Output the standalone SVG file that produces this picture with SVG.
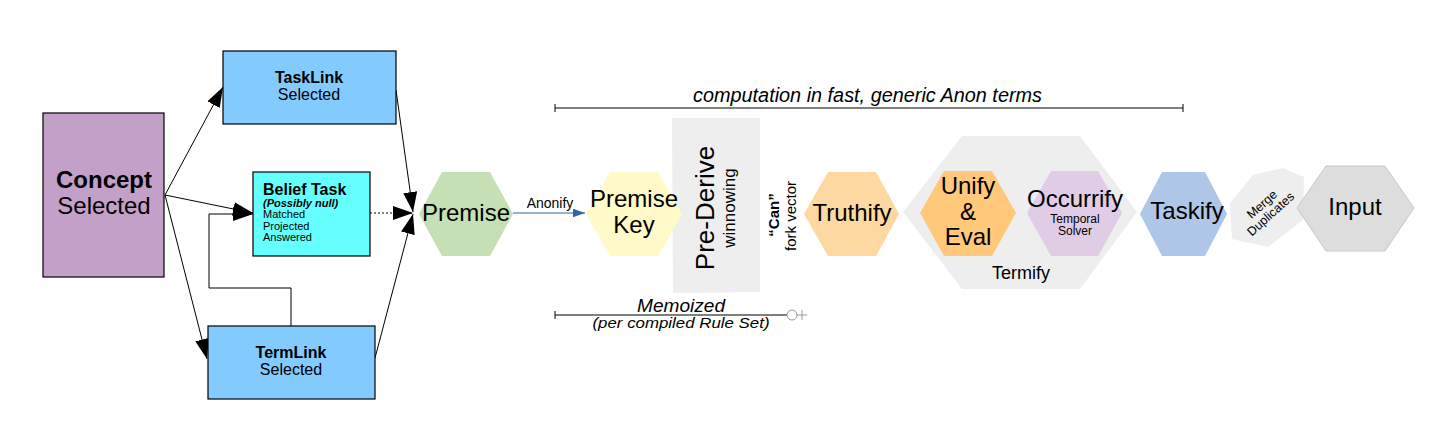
<svg xmlns="http://www.w3.org/2000/svg" width="1440" height="443" viewBox="0 0 1440 443">
<style>
text{font-family:"Liberation Sans",Arial,sans-serif;fill:#000}
.box{stroke:#000;stroke-width:1.2}
.ln{fill:none;stroke:#000;stroke-width:1}
.it{font-style:italic}
</style>
<defs>
<marker id="ah" viewBox="0 0 20 14" refX="20" refY="7" markerWidth="20" markerHeight="14" markerUnits="userSpaceOnUse" orient="auto">
<path d="M0,0 L20,7 L0,14 Z" fill="#000"/>
</marker>
<marker id="ahb" viewBox="0 0 14 10" refX="14" refY="5" markerWidth="12" markerHeight="9" markerUnits="userSpaceOnUse" orient="auto">
<path d="M0,0 L14,5 L0,10 Z" fill="#3465a4"/>
</marker>
</defs>
<rect width="1440" height="443" fill="#fff"/>

<g id="connectors">
<line class="ln" x1="165" y1="195" x2="223" y2="87" marker-end="url(#ah)"/>
<line class="ln" x1="165" y1="195" x2="253" y2="213" marker-end="url(#ah)"/>
<line class="ln" x1="165" y1="195" x2="207" y2="359" marker-end="url(#ah)"/>
<polyline class="ln" points="291,326 291,288 209,288 209,214 253,214" marker-end="url(#ah)"/>
<line class="ln" x1="396" y1="90" x2="413" y2="212" marker-end="url(#ah)"/>
<line class="ln" x1="370" y1="213" x2="413" y2="213" stroke-dasharray="2,2" marker-end="url(#ah)"/>
<line class="ln" x1="375" y1="358" x2="413" y2="214" marker-end="url(#ah)"/>
<line x1="513" y1="213" x2="585" y2="213" stroke="#3465a4" stroke-width="1.2" marker-end="url(#ahb)"/>
<text x="550" y="208" font-size="14" text-anchor="middle" fill="#222">Anonify</text>
</g>

<g id="concept">
<rect class="box" x="43" y="113" width="121" height="164" fill="#c3a0c8"/>
<text x="104" y="188" font-size="24" font-weight="bold" text-anchor="middle">Concept</text>
<text x="104" y="214" font-size="24" text-anchor="middle">Selected</text>
</g>

<g id="tasklink">
<rect class="box" x="223" y="51" width="173" height="73" fill="#83caff"/>
<text x="309" y="83" font-size="16" font-weight="bold" text-anchor="middle">TaskLink</text>
<text x="309" y="100" font-size="16" text-anchor="middle">Selected</text>
</g>

<g id="belieftask">
<rect class="box" x="253" y="172" width="117" height="84" fill="#66ffff"/>
<text x="263" y="195" font-size="16" font-weight="bold">Belief Task</text>
<text x="263" y="207" font-size="11" font-weight="bold" class="it">(Possibly null)</text>
<text x="263" y="218" font-size="11">Matched</text>
<text x="263" y="230" font-size="11">Projected</text>
<text x="263" y="241" font-size="11">Answered</text>
</g>

<g id="termlink">
<rect class="box" x="208" y="326" width="167" height="73" fill="#83caff"/>
<text x="291" y="358" font-size="16" font-weight="bold" text-anchor="middle">TermLink</text>
<text x="291" y="375" font-size="16" text-anchor="middle">Selected</text>
</g>

<g id="premise">
<polygon points="419,214 442,172 490,172 513,214 490,256 442,256" fill="#c5e0b4"/>
<text x="466" y="221" font-size="24" text-anchor="middle">Premise</text>
</g>

<g id="prederive">
<polygon points="672,118 760,118 760,292 673,293" fill="#eeeeee"/>
<text transform="translate(714,208) rotate(-90)" font-size="26" text-anchor="middle">Pre-Derive</text>
<text transform="translate(735,208) rotate(-90)" font-size="17" text-anchor="middle">winnowing</text>
</g>

<g id="premisekey">
<polygon points="586,214 610,172 658,172 682,214 658,256 610,256" fill="#fffac8"/>
<text x="634" y="207" font-size="24" text-anchor="middle">Premise</text>
<text x="634" y="233" font-size="24" text-anchor="middle">Key</text>
</g>

<g id="canfork">
<text transform="translate(779,215) rotate(-90)" font-size="15" font-weight="bold" text-anchor="middle">“Can”</text>
<text transform="translate(796,216) rotate(-90)" font-size="15" text-anchor="middle">fork vector</text>
</g>

<g id="truthify">
<polygon points="804,214 828,172 876,172 899,214 876,256 828,256" fill="#fdd8a0"/>
<text x="852" y="221" font-size="24" text-anchor="middle">Truthify</text>
</g>

<g id="termify">
<polygon points="903,212 962,136 1080,136 1137,212 1080,289 962,289" fill="#eeeeee"/>
<text x="1021" y="279" font-size="18" text-anchor="middle">Termify</text>
</g>

<g id="unify">
<polygon points="920,213 944,171 992,171 1016,213 992,256 944,256" fill="#ffc87a"/>
<text x="968" y="194" font-size="24" text-anchor="middle">Unify</text>
<text x="968" y="220" font-size="24" text-anchor="middle">&amp;</text>
<text x="968" y="245" font-size="24" text-anchor="middle">Eval</text>
</g>

<g id="occurrify">
<polygon points="1027,213 1051,171 1098,171 1122,213 1098,256 1051,256" fill="#e0cce5"/>
<text x="1075" y="207" font-size="24" text-anchor="middle">Occurrify</text>
<text x="1075" y="223" font-size="12" text-anchor="middle">Temporal</text>
<text x="1075" y="235" font-size="12" text-anchor="middle">Solver</text>
</g>

<g id="taskify">
<polygon points="1140,214 1162,172 1205,172 1227,214 1205,256 1162,256" fill="#aec6e8"/>
<text x="1187" y="219" font-size="24" text-anchor="middle">Taskify</text>
</g>

<g id="merge">
<polygon points="1230,203 1253,175 1283,168 1304,177 1303,220 1268,247 1232,239" fill="#eeeeee"/>
<g transform="translate(1266,209) rotate(-42)">
<text x="0" y="-2" font-size="12.5" text-anchor="middle">Merge</text>
<text x="0" y="11" font-size="12.5" text-anchor="middle">Duplicates</text>
</g>
</g>

<g id="input">
<polygon points="1297,208 1326,166 1385,166 1414,208 1385,251 1326,251" fill="#dddddd" stroke="#c8c8c8" stroke-width="1"/>
<text x="1355" y="215" font-size="24" text-anchor="middle">Input</text>
</g>

<g id="computation">
<line class="ln" x1="555" y1="108" x2="1183" y2="108"/>
<line class="ln" x1="555" y1="104" x2="555" y2="112"/>
<line class="ln" x1="1183" y1="104" x2="1183" y2="112"/>
<text x="867.5" y="102" font-size="19.5" class="it" text-anchor="middle" textLength="349" lengthAdjust="spacingAndGlyphs">computation in fast, generic Anon terms</text>
</g>

<g id="memoized">
<line class="ln" x1="555" y1="315" x2="787" y2="315"/>
<line class="ln" x1="555" y1="311" x2="555" y2="319"/>
<circle cx="792" cy="315" r="5" fill="#fff" stroke="#999" stroke-width="1"/>
<line x1="797" y1="315" x2="807" y2="315" stroke="#999" stroke-width="1"/>
<line x1="802" y1="310" x2="802" y2="320" stroke="#999" stroke-width="1"/>
<text x="681" y="312" font-size="18" class="it" text-anchor="middle" textLength="88" lengthAdjust="spacingAndGlyphs">Memoized</text>
<text x="681" y="328" font-size="15" class="it" text-anchor="middle" textLength="177" lengthAdjust="spacingAndGlyphs">(per compiled Rule Set)</text>
</g>
</svg>
